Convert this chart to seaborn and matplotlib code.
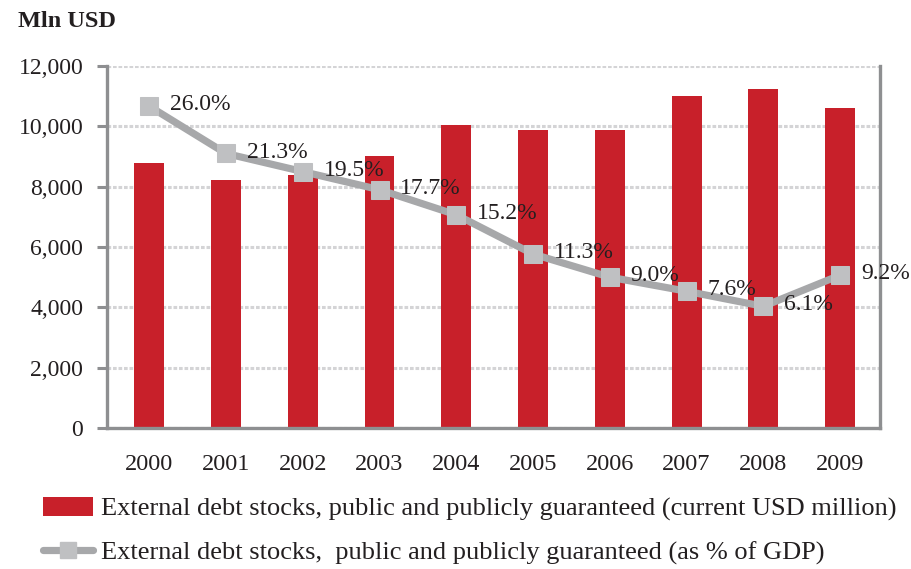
import numpy as np
import pandas as pd
import matplotlib
matplotlib.use("Agg")
import matplotlib.pyplot as plt
import seaborn as sns
from matplotlib.lines import Line2D
from matplotlib.patches import Patch

years = ["2000", "2001", "2002", "2003", "2004", "2005", "2006", "2007", "2008", "2009"]
debt_usd_mln = [8780, 8210, 8380, 9010, 10040, 9880, 9880, 11000, 11240, 10610]
debt_pct_gdp = [26.0, 21.3, 19.5, 17.7, 15.2, 11.3, 9.0, 7.6, 6.1, 9.2]
pct_labels = ["26.0%", "21.3%", "19.5%", "17.7%", "15.2%", "11.3%", "9.0%", "7.6%", "6.1%", "9.2%"]
y_ticks = [0, 2000, 4000, 6000, 8000, 10000, 12000]

bar_label = "External debt stocks, public and publicly guaranteed (current USD million)"
line_label = "External debt stocks,  public and publicly guaranteed (as % of GDP)"

sns.set_theme(style="white")
plt.rcParams["font.family"] = ["Liberation Serif", "DejaVu Serif"]

RED = "#c8202a"
LINE_GREY = "#a7a8aa"
MARK_GREY = "#bfc0c2"
AXIS_GREY = "#8e8f91"
GRID_GREY = "#d4d4d6"
TXT = "#231f20"

df = pd.DataFrame({"year": years, "usd": debt_usd_mln, "pct": debt_pct_gdp,
                   "pos": np.arange(len(years))})

fig = plt.figure(figsize=(9.12, 5.69), dpi=100)
ax = fig.add_axes([0.1173, 0.2478, 0.8477, 0.6362])

sns.barplot(data=df, x="year", y="usd", color=RED, width=0.39, saturation=1,
            ax=ax, zorder=2)
for p in ax.patches:
    p.set_edgecolor("none")

ax.set_ylim(0, 12000)
ax.set_xlim(-0.55, 9.52)
ax.set_yticks(y_ticks)
ax.set_yticklabels([f"{v:,}" for v in y_ticks], fontsize=17, color=TXT)
ax.set_xticks(np.arange(len(years)))
ax.set_xticklabels(years, fontsize=17.5, color=TXT)
ax.set_xticks(np.arange(0.5, len(years) - 1, 1.0), minor=True)
ax.tick_params(axis="x", which="major", length=0, pad=19)
ax.tick_params(axis="x", which="minor", length=7, width=2.2, color=AXIS_GREY, direction="out")
ax.tick_params(axis="y", which="major", length=7, width=2.2, color=AXIS_GREY,
               direction="out", pad=10)
ax.set_xlabel("")
ax.set_ylabel("")
ax.yaxis.grid(True, color=GRID_GREY, linestyle=(0, (1.2, 0.6)), linewidth=2.2, zorder=0)
ax.set_axisbelow(True)

for side in ["left", "bottom", "right"]:
    ax.spines[side].set_visible(True)
    ax.spines[side].set_color(AXIS_GREY)
    ax.spines[side].set_linewidth(2.4)
ax.spines["top"].set_visible(False)

# Share of GDP on a hidden secondary scale
ax2 = ax.twinx()
sns.lineplot(data=df, x="pos", y="pct", ax=ax2, color=LINE_GREY, linewidth=5.2,
             marker="s", markersize=13, markerfacecolor=MARK_GREY,
             markeredgecolor=MARK_GREY, zorder=3)
ax2.set_ylim(-6, 30)
ax2.set_xlim(-0.55, 9.52)
ax2.set_yticks([])
ax2.set_ylabel("")
ax2.set_xlabel("")
for side in ax2.spines.values():
    side.set_visible(False)

for x, v, lab in zip(df["pos"], debt_pct_gdp, pct_labels):
    ax2.annotate(lab, (x, v), xytext=(15, 1), textcoords="offset points",
                 ha="left", va="center", fontsize=17, color=TXT, zorder=4)

fig.text(0.02, 0.962, "Mln USD", fontsize=17.5, fontweight="bold", color=TXT,
         ha="left", va="center")

handles = [
    Patch(facecolor=RED, edgecolor="none"),
    Line2D([0], [0], color=LINE_GREY, linewidth=5.2, marker="s", markersize=12,
           markerfacecolor=MARK_GREY, markeredgecolor=MARK_GREY),
]
fig.legend(handles, [bar_label, line_label], loc="lower left",
           bbox_to_anchor=(0.021, -0.034), frameon=False, fontsize=19,
           handlelength=1.9, handleheight=0.75, handletextpad=0.3,
           labelspacing=0.72, labelcolor=TXT)

fig.savefig("out.png", dpi=100)
